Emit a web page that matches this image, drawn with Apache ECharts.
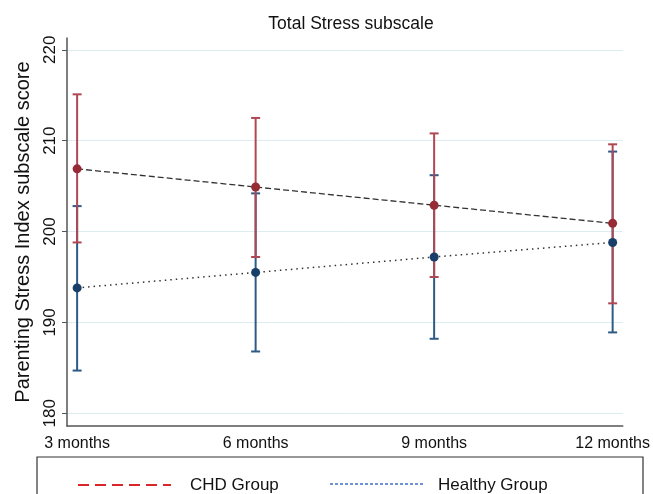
<!DOCTYPE html>
<html>
<head>
<meta charset="utf-8">
<script src="https://cdn.jsdelivr.net/npm/echarts@6/dist/echarts.min.js"></script>
<style>html,body{margin:0;padding:0;background:#fff;}#c{width:653px;height:494px;}</style>
</head>
<body>
<div id="c"></div>
<script>
var months = [3, 6, 9, 12];
var chdMean = [206.9, 204.9, 202.9, 200.9];
var chdLow = [198.8, 197.2, 195.0, 192.1];
var chdHigh = [215.1, 212.5, 210.8, 209.6];
var healthyMean = [193.8, 195.5, 197.2, 198.8];
var healthyLow = [184.7, 186.8, 188.2, 188.9];
var healthyHigh = [202.8, 204.2, 206.2, 208.8];
var yTicks = [180, 190, 200, 210, 220];

var chart = echarts.init(document.getElementById('c'));

function pts(xs, ys) { return xs.map(function (x, i) { return [x, ys[i]]; }); }
function bars(xs, lo, hi) { return xs.map(function (x, i) { return [x, lo[i], hi[i]]; }); }
function errRender(color) {
  return function (params, api) {
    var x = api.value(0);
    var top = api.coord([x, api.value(2)]);
    var bot = api.coord([x, api.value(1)]);
    var hw = 4.5;
    var st = { stroke: color, lineWidth: 2 };
    return {
      type: 'group',
      children: [
        { type: 'line', shape: { x1: top[0], y1: top[1], x2: bot[0], y2: bot[1] }, style: st },
        { type: 'line', shape: { x1: top[0] - hw, y1: top[1], x2: top[0] + hw, y2: top[1] }, style: st },
        { type: 'line', shape: { x1: bot[0] - hw, y1: bot[1], x2: bot[0] + hw, y2: bot[1] }, style: st }
      ]
    };
  };
}

var option = {
  animation: false,
  backgroundColor: '#fff',
  title: {
    text: 'Total Stress subscale',
    left: 346, top: 10, textAlign: 'center',
    textStyle: { fontFamily: 'Liberation Sans', fontSize: 17.5, fontWeight: 'normal', color: '#111' }
  },
  grid: { left: 67, right: 28, top: 38, bottom: 68 },
  xAxis: {
    type: 'value', min: 2.83, max: 12.17,
    axisLine: { lineStyle: { color: '#555', width: 1.5 } },
    axisTick: { show: false },
    splitLine: { show: false },
    axisLabel: {
      customValues: months,
      formatter: function (v) { return v + ' months'; },
      fontFamily: 'Liberation Sans', fontSize: 16, color: '#111', margin: 10
    }
  },
  yAxis: {
    type: 'value', min: 178.6, max: 221.3,
    name: 'Parenting Stress Index subscale score',
    nameLocation: 'middle', nameGap: 34,
    nameTextStyle: { fontFamily: 'Liberation Sans', fontSize: 20, color: '#111' },
    axisLine: { show: true, lineStyle: { color: '#555', width: 1.5 } },
    axisTick: { show: true, customValues: yTicks, length: 5, lineStyle: { color: '#555' } },
    splitLine: { show: true, customValues: yTicks, lineStyle: { color: '#dcedf1', width: 1 } },
    axisLabel: {
      customValues: yTicks, rotate: 90,
      fontFamily: 'Liberation Sans', fontSize: 17, color: '#111', margin: 8
    }
  },
  series: [
    { type: 'custom', name: 'Healthy CI', data: bars(months, healthyLow, healthyHigh), renderItem: errRender('#2d5a87'), z: 2 },
    { type: 'custom', name: 'CHD CI', data: bars(months, chdLow, chdHigh), renderItem: errRender('#b04854'), z: 3 },
    {
      type: 'line', name: 'CHD Group', data: pts(months, chdMean), z: 4,
      lineStyle: { color: '#333', width: 1.3, type: [6, 3] },
      symbol: 'circle', symbolSize: 9, itemStyle: { color: '#972b35' }
    },
    {
      type: 'line', name: 'Healthy Group', data: pts(months, healthyMean), z: 4,
      lineStyle: { color: '#333', width: 1.5, type: [1.5, 4] },
      symbol: 'circle', symbolSize: 9, itemStyle: { color: '#173f69' }
    }
  ],
  graphic: [
    { type: 'rect', shape: { x: 37, y: 457, width: 606, height: 60 }, style: { fill: 'none', stroke: '#333', lineWidth: 1.2 } },
    { type: 'line', shape: { x1: 78, y1: 485, x2: 171, y2: 485 }, style: { stroke: '#d8262b', lineWidth: 2, lineDash: [11, 6] } },
    { type: 'text', x: 190, y: 485, style: { text: 'CHD Group', fontFamily: 'Liberation Sans', fontSize: 17, fill: '#111', verticalAlign: 'middle' } },
    { type: 'line', shape: { x1: 330, y1: 484, x2: 423, y2: 484 }, style: { stroke: '#3f6fc7', lineWidth: 1.5, lineDash: [3, 2] } },
    { type: 'text', x: 438, y: 485, style: { text: 'Healthy Group', fontFamily: 'Liberation Sans', fontSize: 17, fill: '#111', verticalAlign: 'middle' } }
  ]
};
chart.setOption(option);
</script>
</body>
</html>
